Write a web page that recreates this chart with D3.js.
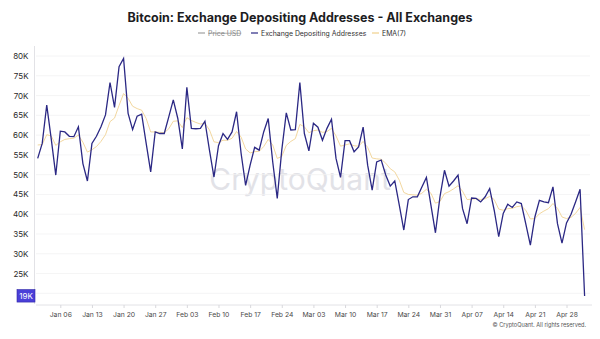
<!DOCTYPE html>
<html>
<head>
<meta charset="utf-8">
<script src="https://cdn.jsdelivr.net/npm/d3@7"></script>
<style>
  html, body { margin: 0; padding: 0; background: #fff; }
  svg { display: block; font-family: Inter, "Noto Sans", sans-serif; }
</style>
</head>
<body>
<script>
// daily series, Jan 01 – May 02 2025 (thousands of addresses)
const startDate = new Date(2025, 0, 1);
const depositing = [
  54.1, 57.9, 67.6, 59.0, 49.9, 61.0, 60.8, 59.7, 59.6, 62.1,
  52.8, 48.4, 57.9, 59.7, 62.1, 65.1, 73.3, 67.0, 77.3, 79.4,
  65.5, 61.4, 64.8, 65.3, 57.9, 50.7, 60.8, 60.4, 60.4, 64.6,
  68.9, 64.2, 56.5, 72.1, 61.7, 61.6, 61.7, 63.5, 56.2, 49.4,
  57.3, 60.4, 58.9, 60.8, 65.9, 55.4, 47.3, 52.4, 56.9, 56.2,
  60.8, 64.2, 53.2, 44.0, 56.2, 65.6, 61.3, 61.4, 73.3, 60.4,
  56.0, 63.0, 62.0, 58.7, 61.7, 64.0, 54.1, 49.3, 58.6, 58.6,
  55.8, 57.0, 62.0, 52.4, 46.1, 53.2, 53.7, 49.9, 47.1, 48.4,
  42.3, 36.0, 43.7, 44.4, 44.4, 46.9, 49.3, 42.3, 35.3, 44.4,
  51.1, 47.1, 48.4, 49.9, 41.4, 37.6, 44.1, 44.0, 43.1, 44.4,
  46.5, 41.0, 34.3, 40.2, 42.5, 41.7, 43.1, 42.7, 37.5, 32.2,
  39.3, 43.5, 43.1, 42.9, 46.9, 37.6, 32.7, 37.8, 40.0, 43.1,
  46.3, 19.3
];
const ema7 = [
  57.5, 57.6, 60.1, 59.8, 57.4, 58.3, 58.9, 59.1, 59.2, 60.0,
  58.2, 55.7, 56.3, 57.1, 58.4, 60.1, 63.4, 64.3, 67.5, 70.5,
  69.3, 67.3, 66.7, 66.3, 64.2, 60.8, 60.8, 60.7, 60.6, 61.6,
  63.5, 63.6, 61.9, 64.4, 63.7, 63.2, 62.8, 63.0, 61.3, 58.3,
  58.1, 58.7, 58.7, 59.2, 60.9, 59.5, 56.5, 55.5, 55.8, 55.9,
  57.1, 58.9, 57.5, 54.1, 54.6, 57.4, 58.4, 59.1, 62.7, 62.1,
  60.6, 61.1, 61.3, 60.7, 60.9, 61.7, 59.8, 57.2, 57.5, 57.8,
  57.3, 57.2, 58.4, 56.9, 54.2, 54.0, 53.9, 52.9, 51.5, 50.7,
  48.6, 45.5, 45.0, 44.9, 44.8, 45.3, 46.3, 45.3, 42.8, 43.2,
  45.2, 45.7, 46.4, 47.2, 45.8, 43.7, 43.8, 43.9, 43.7, 43.9,
  44.5, 43.7, 41.3, 41.0, 41.4, 41.5, 41.9, 42.1, 41.0, 38.8,
  38.9, 40.1, 40.8, 41.4, 42.7, 41.5, 39.3, 38.9, 39.2, 40.2,
  41.7, 36.1
];
const gridTicks = [20, 25, 30, 35, 40, 45, 50, 55, 60, 65, 70, 75, 80];
const labelTicks = [25, 30, 35, 40, 45, 50, 55, 60, 65, 70, 75, 80];
const legendItems = [
  {name: 'Price USD', color: '#a0a0a0', hidden: true},
  {name: 'Exchange Depositing Addresses', color: '#2b2884', hidden: false},
  {name: 'EMA(7)', color: '#f0d08c', hidden: false}
];

const width = 600;
const height = 339;
const lineColor = '#2b2884';
const emaColor = '#f0d294';

const dayMs = 24 * 3600 * 1000;
const rows = depositing.map((v, i) => ({
  date: new Date(startDate.getTime() + i * dayMs),
  value: v,
  ema: ema7[i]
}));

const x = d3.scaleTime([rows[0].date, rows[rows.length - 1].date], [37.7, 584.6]);
const y = d3.scaleLinear([20, 80], [293.3, 56]);

const svg = d3.select('body').append('svg')
  .attr('width', width)
  .attr('height', height);

// title + legend
svg.append('text')
  .attr('x', 300).attr('y', 22)
  .attr('text-anchor', 'middle')
  .attr('font-size', 12.5)
  .attr('font-weight', 700)
  .attr('fill', '#1d1d1f')
  .text('Bitcoin: Exchange Depositing Addresses - All Exchanges');

const legendX = [198, 251, 372];
const lg = svg.append('g').attr('font-size', 6.9);
legendItems.forEach((d, i) => {
  lg.append('line')
    .attr('x1', legendX[i]).attr('x2', legendX[i] + 7)
    .attr('y1', 33).attr('y2', 33)
    .attr('stroke', d.color).attr('stroke-width', 1.2);
  lg.append('text')
    .attr('x', legendX[i] + 10).attr('y', 35.5)
    .attr('fill', d.hidden ? '#8a8a8a' : '#333')
    .attr('text-decoration', d.hidden ? 'line-through' : null)
    .text(d.name);
});

// watermark
svg.append('text')
  .attr('x', 300).attr('y', 190)
  .attr('text-anchor', 'middle')
  .attr('font-size', 30)
  .attr('fill', '#d9d9df')
  .attr('opacity', 0.75)
  .text('CryptoQuant');

// grid
svg.append('g')
  .selectAll('line')
  .data(gridTicks)
  .join('line')
  .attr('x1', 36).attr('x2', 590)
  .attr('y1', d => y(d)).attr('y2', d => y(d))
  .attr('stroke', '#f1f1f3')
  .attr('stroke-width', 0.8);

// y axis
const gy = svg.append('g')
  .attr('transform', 'translate(34.5,0)')
  .call(d3.axisLeft(y).tickValues(labelTicks).tickSize(0).tickPadding(6)
    .tickFormat(d => d + 'K'));
gy.select('.domain').attr('stroke', '#e2e2e6').attr('d', 'M0,46V304');
gy.selectAll('text').attr('font-size', 8).attr('fill', '#2a2a2a')
  .attr('font-family', 'Inter, "Noto Sans", sans-serif');

// x axis
const weekTicks = d3.timeMonday.range(new Date(2025, 0, 6), new Date(2025, 4, 1));
const gx = svg.append('g')
  .attr('transform', 'translate(0,305)')
  .call(d3.axisBottom(x).tickValues(weekTicks).tickSize(3).tickPadding(4)
    .tickFormat(d3.timeFormat('%b %d')));
gx.select('.domain').attr('stroke', '#e2e2e6').attr('d', 'M36,0H592');
gx.selectAll('.tick line').attr('stroke', '#d8d8dc');
gx.selectAll('text').attr('font-size', 6.8).attr('fill', '#4a4a4a')
  .attr('font-family', 'Inter, "Noto Sans", sans-serif');

// series
svg.append('path')
  .datum(rows)
  .attr('fill', 'none')
  .attr('stroke', emaColor)
  .attr('stroke-width', 0.9)
  .attr('d', d3.line().x(d => x(d.date)).y(d => y(d.ema)));

svg.append('path')
  .datum(rows)
  .attr('fill', 'none')
  .attr('stroke', lineColor)
  .attr('stroke-width', 1.3)
  .attr('d', d3.line().x(d => x(d.date)).y(d => y(d.value)));

// last value badge on the y axis
const last = rows[rows.length - 1];
const badge = svg.append('g').attr('transform', `translate(0,${y(last.value)})`);
badge.append('rect')
  .attr('x', 17).attr('y', -6.5)
  .attr('width', 18).attr('height', 12.5)
  .attr('fill', '#4a3fd8')
  .attr('stroke', '#2f27a8').attr('stroke-width', 0.6);
badge.append('text')
  .attr('x', 26).attr('y', 3)
  .attr('text-anchor', 'middle')
  .attr('font-size', 8)
  .attr('fill', '#fff')
  .text(Math.round(last.value) + 'K');

// footer
svg.append('text')
  .attr('x', 586).attr('y', 327)
  .attr('text-anchor', 'end')
  .attr('font-size', 5.6)
  .attr('fill', '#555')
  .text('© CryptoQuant. All rights reserved.');
</script>
</body>
</html>
